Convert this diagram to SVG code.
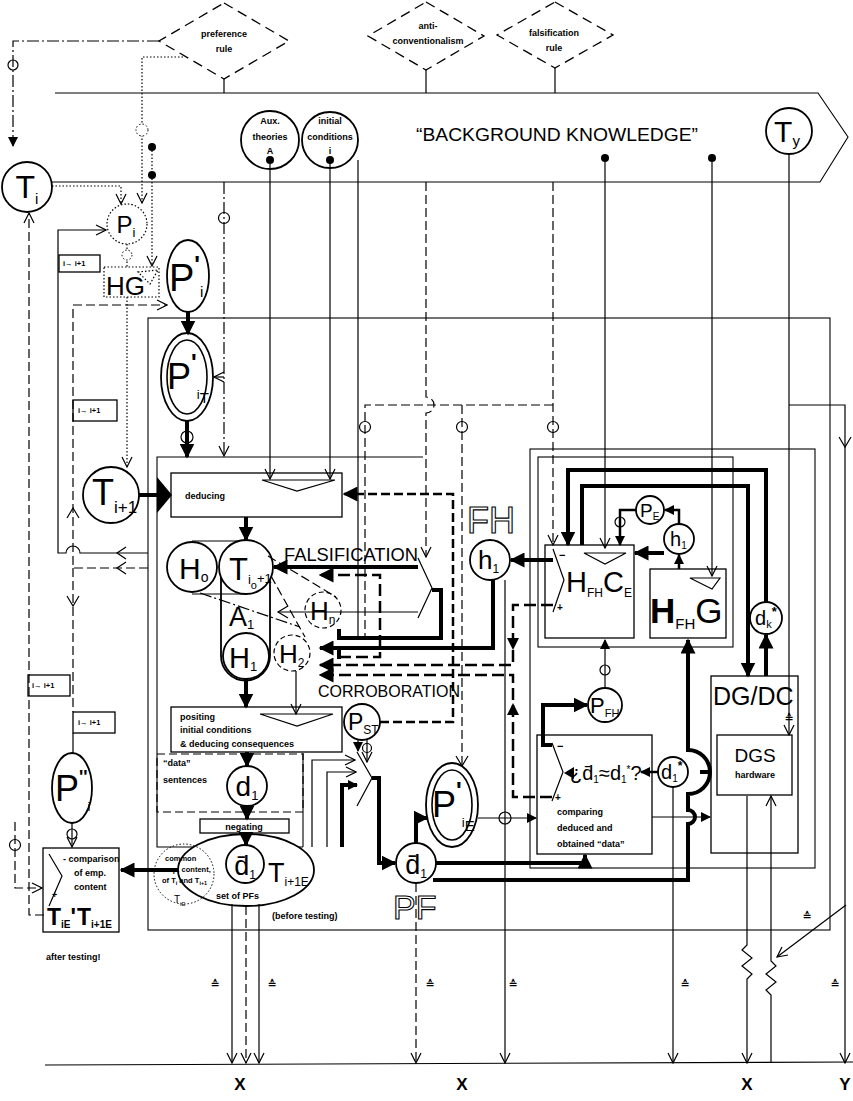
<svg xmlns="http://www.w3.org/2000/svg" width="853" height="1101" viewBox="0 0 853 1101">
<defs>
<marker id="oa" viewBox="-1 -1 12 12" refX="10" refY="5" markerWidth="12" markerHeight="12" markerUnits="userSpaceOnUse" orient="auto"><path d="M0,0 L10,5 L0,10" fill="none" stroke="#000" stroke-width="1.2"/></marker>
<marker id="fa" viewBox="0 0 10 10" refX="9" refY="5" markerWidth="10" markerHeight="10" markerUnits="userSpaceOnUse" orient="auto"><path d="M0,0 L10,5 L0,10 z" fill="#000"/></marker>
<marker id="fb" viewBox="0 0 10 10" refX="9" refY="5" markerWidth="15" markerHeight="15" markerUnits="userSpaceOnUse" orient="auto"><path d="M0,0 L10,5 L0,10 z" fill="#000"/></marker>
</defs>
<style>
.l{fill:none;stroke:#000;stroke-width:1.2}
.t{fill:none;stroke:#000;stroke-width:4}
.m{fill:none;stroke:#000;stroke-width:2.5}
.d{stroke-dasharray:9 4}
.td{stroke-dasharray:12 5}
.dd{stroke-dasharray:12 3 2 3}
.dt{stroke-dasharray:1.5 2}
.n{fill:#fff;stroke:#000;stroke-width:1.8}
.fr{fill:none;stroke:#000;stroke-width:1.1}
.bx{fill:#fff;stroke:#000;stroke-width:1.3}
.phi{fill:none;stroke:#000;stroke-width:1.2}
.dia{fill:#fff;stroke:#000;stroke-width:1.3;stroke-dasharray:10 6}
text{font-family:"Liberation Sans","DejaVu Sans",Arial,sans-serif;fill:#000}
.s{font-size:9px;font-weight:bold}
.xs{font-size:7.5px;font-weight:bold}
.ol{fill:none;stroke:#000;stroke-width:1.1}
.eq{font-size:11px;font-weight:bold;font-family:"DejaVu Sans",sans-serif}
</style>

<g id="frames">
<path class="fr" d="M55,93 H818 L848,137 L820,182 H52"/>
<rect class="fr" x="148" y="318" width="682" height="612"/>
<path class="fr" d="M303,847 H157 V457 H423 M303,753 V847"/>
<rect class="fr" x="530" y="449" width="285" height="419"/>
<rect class="fr" x="538" y="457" width="195" height="190"/>
<path class="fr" d="M45,1065 L853,1062"/>
</g>

<g id="preference-rule"><polygon class="dia" points="224,3 289,41 224,79 159,41"/><text class="s" x="224" y="37" text-anchor="middle">preference</text><text class="s" x="224" y="52" text-anchor="middle">rule</text></g>
<g id="anti-conventionalism"><polygon class="dia" points="426,2 484,36 426,70 368,36"/><text class="s" x="428" y="29" text-anchor="middle">anti-</text><text class="s" x="428" y="44" text-anchor="middle">conventionalism</text></g>
<g id="falsification-rule"><polygon class="dia" points="555,2 613,35 555,68 497,35"/><text class="s" x="554" y="36" text-anchor="middle">falsification</text><text class="s" x="554" y="51" text-anchor="middle">rule</text></g>

<g id="background-knowledge"><text x="557" y="141" text-anchor="middle" font-size="19" textLength="282" lengthAdjust="spacingAndGlyphs">“BACKGROUND  KNOWLEDGE”</text></g>
<g id="aux-theories"><circle class="n" cx="270" cy="140" r="29"/><text class="s" x="270" y="124" text-anchor="middle">Aux.</text><text class="s" x="270" y="140" text-anchor="middle">theories</text><text class="s" x="270" y="154" text-anchor="middle">A</text><circle cx="270" cy="160" r="4"/></g>
<g id="initial-conditions"><circle class="n" cx="330" cy="140" r="28"/><text class="s" x="330" y="124" text-anchor="middle">initial</text><text class="s" x="330" y="140" text-anchor="middle">conditions</text><text class="s" x="330" y="154" text-anchor="middle">i</text><circle cx="330" cy="160" r="4"/></g>
<g id="T-y"><circle class="n" cx="789" cy="131" r="23"/><text x="787" y="142" text-anchor="middle" font-size="30">T<tspan font-size="15" dy="4">y</tspan></text></g>
<g id="dots"><circle cx="605" cy="158" r="4"/><circle cx="712" cy="158" r="4"/><circle cx="152" cy="147" r="4"/><circle cx="152" cy="175" r="4"/></g>

<g id="T-i"><circle class="n" cx="27" cy="187" r="25"/><text x="27" y="198" text-anchor="middle" font-size="32">T<tspan font-size="15" dy="6">i</tspan></text></g>
<g id="P-i"><circle cx="127" cy="224" r="20" fill="#fff" stroke="#000" stroke-width="1.2" stroke-dasharray="1.5 2"/><text x="126" y="233" text-anchor="middle" font-size="24">P<tspan font-size="13" dy="4">i</tspan></text></g>
<g id="HG"><rect x="104" y="267" width="55" height="30" fill="#fff" stroke="#000" stroke-width="1.2" stroke-dasharray="1.5 2"/><text x="106" y="295" font-size="26">HG</text><path class="l dt" d="M138,272 L158,270 L150,284 Z"/></g>
<g id="P-i-prime"><ellipse class="n" cx="188" cy="276" rx="21" ry="36"/><text x="169" y="291" font-size="38">P<tspan font-size="24" font-weight="bold" dy="-18">'</tspan><tspan font-size="15" dy="24">i</tspan></text></g>
<g id="P-iT"><ellipse class="n" cx="187" cy="377" rx="26" ry="44"/><ellipse cx="187" cy="377" rx="20" ry="37" fill="none" stroke="#000" stroke-width="1.6"/><text x="167" y="389" font-size="36">P<tspan font-size="24" font-weight="bold" dy="-18">'</tspan><tspan font-size="13" dy="28">i</tspan><tspan font-size="15" dy="4">T</tspan></text></g>
<g id="T-i1"><circle class="n" cx="111" cy="495" r="28"/><text x="92" y="505" font-size="36">T<tspan font-size="17" dy="8">i+1</tspan></text></g>
<g id="P-i-dprime"><ellipse class="n" cx="72" cy="788" rx="20" ry="35"/><text x="55" y="801" font-size="36">P<tspan font-size="18" font-weight="bold" dy="-18">''</tspan><tspan font-size="13" dy="28">i</tspan></text></g>
<g id="i-box-1"><rect class="bx" x="59" y="255" width="41" height="17"/><text class="xs" x="63" y="266">i→ i+1</text></g>
<g id="i-box-2"><rect class="bx" x="73" y="400" width="44" height="21"/><text class="xs" x="78" y="413">i→ i+1</text></g>
<g id="i-box-3"><rect class="bx" x="28" y="675" width="42" height="21"/><text class="xs" x="32" y="688">i→ i+1</text></g>
<g id="i-box-4"><rect class="bx" x="73" y="712" width="42" height="21"/><text class="xs" x="78" y="725">i→ i+1</text></g>
<g id="comparison"><rect class="bx" x="43" y="848" width="76" height="84"/><path class="l" d="M49,854 L62,876 L49,906"/><text class="s" x="63" y="862">- comparison</text><text class="s" x="74" y="876">of emp.</text><text class="s" x="74" y="890">content</text><text x="52" y="898" font-size="9" font-weight="bold">+</text><text x="47" y="925" font-size="23" font-weight="bold">T<tspan font-size="10" dy="3">iE</tspan><tspan dy="-3">'</tspan><tspan dx="1">T</tspan><tspan font-size="10" dy="3">i+1E</tspan></text></g>
<text class="s" x="46" y="960">after testing!</text>

<g id="deducing"><rect class="bx" x="171" y="473" width="171" height="44"/><text class="s" x="185" y="499" font-size="10">deducing</text><path class="l" d="M262,480 H335 L297,491 Z"/></g>
<g id="H-o"><circle class="n" cx="192" cy="567" r="25"/><text x="179" y="579" font-size="30">H<tspan font-size="14" dy="3">o</tspan></text></g>
<g id="theory-capsule"><path class="n" d="M221,567 V656 A24.5,24.5 0 0 0 270,656 V567"/><path class="l" d="M192,541 H246 M192,594 H246"/><circle class="n" cx="246" cy="567" r="27"/><circle class="n" cx="246" cy="656" r="23"/><text x="229" y="580" font-size="31">T<tspan font-size="13" dy="4">i</tspan><tspan font-size="11" dy="5">o</tspan><tspan font-size="13" dy="-6">+1</tspan></text><text x="229" y="626" font-size="27">A<tspan font-size="13" dy="3">1</tspan></text><text x="229" y="668" font-size="29">H<tspan font-size="13" dy="3">1</tspan></text></g>
<g id="H-n"><circle cx="323" cy="610" r="18" fill="#fff" stroke="#000" stroke-width="1.2" stroke-dasharray="5 3"/><text x="310" y="620" font-size="26">H<tspan font-size="12" dy="4">n</tspan></text></g>
<g id="H-2"><circle cx="292" cy="653" r="18" fill="#fff" stroke="#000" stroke-width="1.2" stroke-dasharray="5 3"/><text x="279" y="663" font-size="26">H<tspan font-size="12" dy="4">2</tspan></text></g>
<g id="positing"><rect class="bx" x="171" y="707" width="171" height="45"/><text class="s" x="180" y="720">positing</text><text class="s" x="180" y="733">initial conditions</text><text class="s" x="180" y="747">&amp; deducing consequences</text><path class="l" d="M260,714 H333 L297,726 Z"/></g>
<g id="data-sentences"><rect x="157" y="754" width="146" height="58" fill="none" stroke="#000" stroke-width="1.2" stroke-dasharray="8 4"/><text class="s" x="163" y="766" font-weight="normal">“data”</text><text class="s" x="163" y="783">sentences</text></g>
<g id="d1"><circle class="n" cx="247" cy="786" r="20"/><text x="247" y="796" text-anchor="middle" font-size="28">d<tspan font-size="13" dy="4">1</tspan></text></g>
<g id="negating"><rect class="bx" x="200" y="819" width="89" height="14"/><text class="s" x="244" y="830" text-anchor="middle">negating</text></g>
<g id="set-of-PFs"><ellipse class="n" cx="246" cy="870" rx="68" ry="36"/><circle cx="184" cy="874" r="30" fill="none" stroke="#000" stroke-width="1" stroke-dasharray="1.5 2"/><circle class="n" cx="245" cy="864" r="19"/><text x="245" y="875" text-anchor="middle" font-size="27" font-family="DejaVu Sans">d̄<tspan font-size="12" dy="4">1</tspan></text><text x="165" y="861" font-size="7.5" font-weight="bold">common</text><text x="162" y="872" font-size="7.5" font-weight="bold">emp. content,</text><text x="162" y="883" font-size="7.5" font-weight="bold">of T<tspan font-size="5.5" dy="2">i</tspan><tspan dy="-2"> and T</tspan><tspan font-size="5.5" dy="2">i+1</tspan></text><text x="174" y="903" font-size="10">T<tspan font-size="6" dy="3">iE</tspan></text><text x="268" y="882" font-size="27">T<tspan font-size="12" dy="4">i+1</tspan><tspan font-size="12">E</tspan></text><text class="s" x="216" y="899">set of PFs</text><text class="s" x="272" y="919">(before testing)</text></g>

<g id="falsification-comparator"><path class="l" d="M418,558 L432,588 L418,618"/></g>
<text id="falsification" x="284" y="561" font-size="17.5" textLength="134" lengthAdjust="spacingAndGlyphs">FALSIFICATION</text>
<text id="corroboration" x="318" y="697" font-size="17" textLength="142" lengthAdjust="spacingAndGlyphs">CORROBORATION</text>
<g id="P-ST"><circle class="n" cx="362" cy="722" r="18"/><text x="348" y="730" font-size="23">P<tspan font-size="12" dy="4">ST</tspan></text></g>
<g id="PST-comparator"><path class="l" d="M357,752 L372,778 L357,806"/></g>
<g id="P-iE"><ellipse class="n" cx="452" cy="805" rx="26" ry="42"/><ellipse cx="452" cy="805" rx="20" ry="35" fill="none" stroke="#000" stroke-width="1.6"/><text x="432" y="817" font-size="36">P<tspan font-size="24" font-weight="bold" dy="-18">'</tspan><tspan font-size="13" dy="28">i</tspan><tspan font-size="15" dy="4">E</tspan></text></g>
<g id="PF"><circle class="n" cx="416" cy="863" r="20"/><text x="416" y="874" text-anchor="middle" font-size="27" font-family="DejaVu Sans">d̄<tspan font-size="12" dy="4">1</tspan></text><text class="ol" x="393" y="919" font-size="34">PF</text></g>
<g id="FH"><text class="ol" x="467" y="533" font-size="36">FH</text><circle class="n" cx="490" cy="560" r="20"/><text x="478" y="569" font-size="26">h<tspan font-size="12" dy="4">1</tspan></text></g>

<g id="HFHCE"><rect class="bx" x="545" y="545" width="89" height="93"/><path class="l" d="M553,549 L564,580 L553,612"/><text x="559" y="559" font-size="11" font-weight="bold">−</text><text x="557" y="611" font-size="10" font-weight="bold">+</text><path class="l" d="M584,553 H626 L605,564 Z"/><text x="566" y="592" font-size="29">H<tspan font-size="12" dy="5">FH</tspan><tspan font-size="29" dy="-5">C</tspan><tspan font-size="12" dy="5">E</tspan></text></g>
<g id="HFHG"><rect class="bx" x="650" y="569" width="76" height="69"/><path class="l" d="M690,578 H720 L712,589 Z"/><text x="650" y="623" font-size="35" font-weight="bold">H<tspan font-size="15" font-weight="normal" dy="6">FH</tspan><tspan font-size="35" font-weight="normal" dy="-6">G</tspan></text></g>
<g id="h1-small"><circle class="n" cx="679" cy="539" r="15"/><text x="670" y="546" font-size="20">h<tspan font-size="10" dy="3">1</tspan></text></g>
<g id="P-E"><circle class="n" cx="650" cy="510" r="14"/><text x="640" y="517" font-size="19">P<tspan font-size="10" dy="3">E</tspan></text></g>
<g id="dk-star"><circle class="n" cx="766" cy="618" r="16"/><text x="755" y="625" font-size="20">d<tspan font-size="11" dy="3">k</tspan><tspan font-size="13" font-weight="bold" dy="-12">*</tspan></text></g>
<g id="DG-DC"><rect x="711" y="676" width="87" height="177" fill="none" stroke="#000" stroke-width="1.3"/><text x="713" y="705" font-size="25">DG/DC</text></g>
<g id="DGS"><rect class="bx" x="717" y="735" width="75" height="60"/><text x="755" y="762" text-anchor="middle" font-size="19">DGS</text><text class="s" x="755" y="778" text-anchor="middle">hardware</text></g>
<g id="P-FH"><circle class="n" cx="605" cy="705" r="17"/><text x="590" y="713" font-size="22">P<tspan font-size="11" dy="4">FH</tspan></text></g>
<g id="comparing"><rect class="bx" x="537" y="735" width="115" height="119"/><path class="l" d="M552,743 L563,772 L552,801"/><text x="557" y="750" font-size="11" font-weight="bold">−</text><text x="555" y="801" font-size="10" font-weight="bold">+</text><text x="570" y="780" font-size="20" font-family="DejaVu Sans">¿d̄<tspan font-size="10" dy="3">1</tspan><tspan dy="-3">≈d</tspan><tspan font-size="10" dy="3">1</tspan><tspan font-size="10" dy="-10">*</tspan><tspan dy="7">?</tspan></text><text class="s" x="557" y="815">comparing</text><text class="s" x="557" y="831">deduced and</text><text class="s" x="557" y="847">obtained “data”</text></g>
<g id="d1-star"><circle class="n" cx="673" cy="772" r="15"/><text x="661" y="779" font-size="20">d<tspan font-size="10" dy="3">1</tspan><tspan font-size="12" font-weight="bold" dy="-12">*</tspan></text></g>

<g id="connectors">
<path class="l" d="M224,79 V93 M426,70 V93 M555,68 V93"/>
<path class="l dd" d="M159,41 H13 V146" marker-end="url(#fa)"/>
<circle class="phi" cx="13" cy="65" r="5"/>
<path class="l dt" d="M183,57 H142 V203" marker-end="url(#oa)"/>
<circle cx="142" cy="130" r="6" fill="#fff" stroke="#000" stroke-width="1" stroke-dasharray="1.5 2"/>
<path class="l dt" d="M52,186 H121 V204" marker-end="url(#oa)"/>
<path class="l dt" d="M152,147 V266" marker-end="url(#oa)"/>
<path class="l dd" d="M224,182 V456" marker-end="url(#oa)"/>
<path class="l" d="M224,377 H214" marker-end="url(#oa)"/>
<circle class="phi" cx="224" cy="218" r="5.5"/>
<path class="l" d="M270,164 V479" marker-end="url(#oa)"/>
<path class="l" d="M330,164 V479" marker-end="url(#oa)"/>
<path class="l" d="M358,160 V640"/>
<path class="l d" d="M426,182 V397 a8,8 0 0 1 0,16 V557" marker-end="url(#oa)"/>
<path class="l d" d="M553,182 V545" marker-end="url(#oa)"/>
<path class="l d" d="M553,405 H365 V640 M462,405 V765"/>
<path class="l" d="M456,756 L462,766 L468,756"/>
<circle class="phi" cx="365" cy="427" r="5.5"/><circle class="phi" cx="462" cy="427" r="5.5"/><circle class="phi" cx="553" cy="427" r="5.5"/>
<path class="l" d="M605,162 V548" marker-end="url(#oa)"/>
<path class="l" d="M712,162 V576" marker-end="url(#oa)"/>
<path class="l" d="M789,154 V735" marker-end="url(#oa)"/>
<path class="l" d="M789,405 H845 V1063" marker-end="url(#oa)"/>
<path class="l" d="M839,437 L845,447 L851,437"/>
<text class="eq" x="789" y="722" text-anchor="middle">≙</text>

<path class="t" d="M188,312 V334" marker-end="url(#fb)"/>
<path class="t" d="M187,421 V457" marker-end="url(#fb)"/>
<circle class="phi" cx="187" cy="437" r="6" stroke-width="1.6"/>
<path class="t" d="M139,495 H158"/>
<path d="M157,477 L172,495 L157,513 Z"/>
<path class="l dt" d="M127,297 V467" marker-end="url(#oa)"/>
<path class="l dt" d="M127,244 V267"/>
<circle cx="127" cy="255" r="5" fill="#fff" stroke="#000" stroke-width="1" stroke-dasharray="1.5 2"/>

<path class="l" d="M148,553 H80 A7,7 0 0 0 66,553 H58 V230 H106" marker-end="url(#oa)"/>
<path class="l" d="M126,547 L117,553 L126,559"/>
<path class="l d" d="M148,568 H73 V305 H167" marker-end="url(#oa)"/>
<path class="l d" d="M73,568 V712"/>
<path class="l" d="M126,562 L117,568 L126,574 M67,518 L73,508 L79,518 M67,596 L73,606 L79,596"/>
<path class="l" d="M73,733 V753"/>
<path class="l" d="M72,823 V847" marker-end="url(#oa)"/>
<circle class="phi" cx="72" cy="834" r="5"/>
<path class="l d" d="M44,915 H29 V213" marker-end="url(#oa)"/>
<path class="l d" d="M15,822 V888 H42" marker-end="url(#oa)"/>
<circle class="phi" cx="15" cy="845" r="5.5"/>
<path class="t" d="M178,870 H121" marker-end="url(#fb)"/>

<path class="t" d="M246,517 V540" marker-end="url(#fb)"/>
<path class="t" d="M246,679 V707" marker-end="url(#fb)"/>
<path class="t" d="M247,752 V766" marker-end="url(#fb)"/>
<path class="t" d="M247,806 V819" marker-end="url(#fb)"/>
<path class="t" d="M246,833 V845" marker-end="url(#fb)"/>
<path class="l" d="M296,671 V714" marker-end="url(#oa)"/>
<path class="l d" d="M268,556 L336,597 M271,576 L305,637"/>
<path class="l dd" d="M200,593 L300,627"/>

<path class="t" d="M418,567 H274" marker-end="url(#fb)"/>
<path class="t" d="M432,590 H441 V638 H339 M339,629 V640"/>
<path class="l" d="M418,612 H278"/>
<path class="l" d="M288,606 L278,612 L288,618"/>
<path class="m td" d="M339,657 H380 V575 H320" marker-end="url(#fb)"/>
<path class="t" d="M339,650 V659"/>
<path class="t" d="M493,580 V648 H320" marker-end="url(#fb)"/>
<path class="m td" d="M553,605 H513 V665 H320" marker-end="url(#fb)"/>
<path d="M507,638 L513,650 L519,638 Z"/>
<path class="m td" d="M552,797 H513 V675 H320" marker-end="url(#fb)"/>
<path d="M507,715 L513,703 L519,715 Z"/>
<path class="m d" d="M380,722 H453 V494 H344" marker-end="url(#fb)"/>
<path class="l" d="M358,740 V751" marker-end="url(#fa)"/>
<path class="l" d="M367,739 V762" marker-end="url(#oa)"/>
<circle class="phi" cx="367" cy="748" r="4.5"/>
<path class="l" d="M312,847 V760 H355" marker-end="url(#oa)"/>
<path class="l" d="M327,847 V772 H356" marker-end="url(#oa)"/>
<path class="t" d="M342,847 V785 H357" marker-end="url(#fa)"/>
<path class="t" d="M372,778 H379 V863 H395" marker-end="url(#fb)"/>
<path class="t" d="M416,843 V818 H427" marker-end="url(#fb)"/>
<path class="l" d="M478,818 H536" marker-end="url(#fa)"/>
<circle class="phi" cx="505" cy="818" r="6"/>
<path class="l" d="M505,580 V1063" marker-end="url(#oa)"/>
<path class="t" d="M436,863 H585 V855" marker-end="url(#fb)"/>
<path class="t" d="M433,880 H688 V824 A7,7 0 0 0 688,810 V794 A22,22 0 0 0 688,750 V640" marker-end="url(#fb)"/>
<path class="l" d="M652,817 H710" marker-end="url(#fa)"/>
<path class="l" d="M605,688 V640" marker-end="url(#fa)"/>
<circle class="phi" cx="605" cy="670" r="5"/>
<path class="t" d="M552,745 H543 V705 H587" marker-end="url(#fb)"/>
<path class="m" d="M658,772 H641" marker-end="url(#fa)"/>
<path d="M574,767 L564,773 L574,779 Z"/>
<path class="l" d="M673,787 V1063" marker-end="url(#oa)"/>
<path class="t" d="M700,772 H711"/>
<path class="t" d="M553,560 H511" marker-end="url(#fb)"/>
<path class="t" d="M664,553 H635" marker-end="url(#fb)"/>
<path class="m" d="M679,569 V555" marker-end="url(#fa)"/>
<path class="m" d="M679,524 V510 H665" marker-end="url(#fa)"/>
<path class="m" d="M636,510 H620 V545" marker-end="url(#fa)"/>
<circle class="phi" cx="620" cy="522" r="5"/>
<path class="t" d="M766,602 V470 H568 V545" marker-end="url(#fb)"/>
<path class="t" d="M582,545 V486 H748 V676" marker-end="url(#fb)"/>
<path class="t" d="M766,676 V635" marker-end="url(#fb)"/>
<path class="l" d="M747,796 V945 l-5,5 l10,8 l-10,8 l10,8 l-5,5 V1063" marker-end="url(#oa)"/>
<path class="l" d="M771,1063 V995 l-5,-5 l10,-8 l-10,-8 l10,-8 l-5,-5 V796" marker-end="url(#oa)"/>
<path class="l" d="M846,905 L777,957" marker-end="url(#oa)"/>
<text class="eq" x="807" y="920" text-anchor="middle">≙</text>

<path class="l" d="M232,904 V1063" marker-end="url(#oa)"/>
<path class="l d" d="M246,906 V1063" marker-end="url(#oa)"/>
<path class="l" d="M259,904 V1063" marker-end="url(#oa)"/>
<path class="l d" d="M416,883 V1063" marker-end="url(#oa)"/>
<text class="eq" x="215" y="988" text-anchor="middle">≙</text>
<text class="eq" x="272" y="988" text-anchor="middle">≙</text>
<text class="eq" x="430" y="988" text-anchor="middle">≙</text>
<text class="eq" x="513" y="988" text-anchor="middle">≙</text>
<text class="eq" x="685" y="988" text-anchor="middle">≙</text>
<text class="eq" x="835" y="988" text-anchor="middle">≙</text>
</g>

<g id="axis-labels">
<text x="240" y="1090" text-anchor="middle" font-size="17" font-weight="bold">X</text>
<text x="462" y="1090" text-anchor="middle" font-size="17" font-weight="bold">X</text>
<text x="747" y="1090" text-anchor="middle" font-size="17" font-weight="bold">X</text>
<text x="845" y="1090" text-anchor="middle" font-size="17" font-weight="bold">Y</text>
</g>
</svg>
